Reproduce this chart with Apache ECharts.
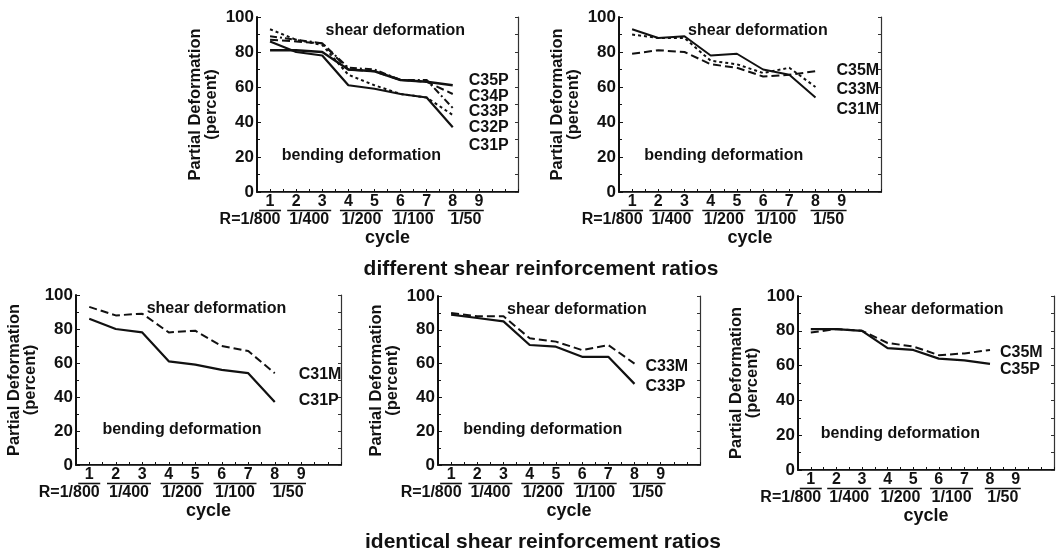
<!DOCTYPE html>
<html>
<head>
<meta charset="utf-8">
<title>Partial Deformation</title>
<script src="https://cdn.jsdelivr.net/npm/echarts@6/dist/echarts.min.js"></script>
<style>
  html, body { margin: 0; padding: 0; background: #fff; }
  #chart { width: 1057px; height: 555px; }
</style>
</head>
<body>
<div id="chart"></div>
<script>
// cycle axis: numbers under the ticks, drift ratio under each pair of cycles
const cycles = [1, 2, 3, 4, 5, 6, 7, 8];
const cycleLabels = ['1', '2', '3', '4', '5', '6', '7', '8', '9'];
const driftLabels = ['R=1/800', '1/400', '1/200', '1/100', '1/50'];
const driftCycles = [1, 2.5, 4.5, 6.5, 8.5];

// partial (shear) deformation in percent, one value per cycle
const c31P = [86, 80, 78, 61, 59, 56, 54, 37];
const c32P = [93, 87, 84, 67, 61, 56, 54, 44];
const c33P = [89, 87, 85, 71, 70, 64, 64, 48];
const c34P = [87, 86, 85, 70, 69, 64, 63, 56];
const c35P = [81, 81, 80, 70, 69, 64, 63, 61];
const c31M = [93, 88, 89, 78, 79, 70, 67, 54];
const c33M = [90, 88, 88, 75, 73, 68, 71, 60];
const c35M = [79, 81, 80, 73, 71, 66, 67, 69];

const captions = ['different shear reinforcement ratios', 'identical shear reinforcement ratios'];

const FONT = '"Liberation Sans", Arial, sans-serif';
const INK = '#111';

const DASH = {
  solid: 'solid',
  long: [8, 4],
  dot: [3, 3],
  dashDot: [7, 3, 2, 3]
};

/**
 * Panel layout; label = [distance, dy] of the end label
 */
const panels = [
  { left: 257, top: 17, width: 261, height: 175, lines: [
    { name: 'C35P', data: c35P, dash: 'solid', width: 2.4, label: [16, -5] },
    { name: 'C34P', data: c34P, dash: 'long', width: 2, label: [16, 3] },
    { name: 'C33P', data: c33P, dash: 'dashDot', width: 2, label: [16, 4] },
    { name: 'C32P', data: c32P, dash: 'dot', width: 2, label: [16, 13] },
    { name: 'C31P', data: c31P, dash: 'solid', width: 2.2, label: [16, 18] }
  ]},
  { left: 619, top: 17, width: 262, height: 175, lines: [
    { name: 'C35M', data: c35M, dash: 'long', width: 2, label: [21, -1] },
    { name: 'C33M', data: c33M, dash: 'dot', width: 2, label: [21, 3] },
    { name: 'C31M', data: c31M, dash: 'solid', width: 2, label: [21, 12] }
  ]},
  { left: 76, top: 295, width: 265, height: 170, lines: [
    { name: 'C31M', data: c31M, dash: 'long', width: 2, label: [24, 1] },
    { name: 'C31P', data: c31P, dash: 'solid', width: 2.2, label: [24, -2] }
  ]},
  { left: 438, top: 296, width: 262, height: 169, lines: [
    { name: 'C33M', data: c33M, dash: 'long', width: 2, label: [11, 3] },
    { name: 'C33P', data: c33P, dash: 'solid', width: 2.2, label: [11, 3] }
  ]},
  { left: 798, top: 296, width: 263, height: 174, lines: [
    { name: 'C35M', data: c35M, dash: 'long', width: 2, label: [10, 3] },
    { name: 'C35P', data: c35P, dash: 'solid', width: 2.2, label: [10, 6] }
  ]}
];

const labelRich = {
  n: { fontSize: 16, fontWeight: 'bold', lineHeight: 15, fontFamily: FONT, color: INK },
  sp: { fontSize: 16, lineHeight: 15 },
  r: { fontSize: 16, fontWeight: 'bold', lineHeight: 15, fontFamily: FONT, color: INK },
  pad: { width: 40 },
  b0: { width: 22, height: 1.6, lineHeight: 3, fontSize: 1, backgroundColor: INK },
  b1: { width: 44, height: 1.6, lineHeight: 3, fontSize: 1, backgroundColor: INK },
  b2: { width: 43, height: 1.6, lineHeight: 3, fontSize: 1, backgroundColor: INK },
  b3: { width: 43, height: 1.6, lineHeight: 3, fontSize: 1, backgroundColor: INK },
  b4: { width: 36, height: 1.6, lineHeight: 3, fontSize: 1, backgroundColor: INK }
};

/**
 * Label under a tick of the cycle axis
 */
function cycleLabel(value) {
  const i = cycleLabels.indexOf(String(value));
  const d = driftCycles.indexOf(value);
  const top = i >= 0 ? '{n|' + cycleLabels[i] + '}' : '{sp| }';
  if (d < 0) return i >= 0 ? top : '';
  const pad = d === 0 ? '{pad| }' : '';
  return top + '\n{b' + d + '| }\n{r|' + driftLabels[d] + '}' + pad;
}

const grid = [];
const xAxis = [];
const yAxis = [];
const series = [];

panels.forEach((p, g) => {
  grid.push({ left: p.left, top: p.top, width: p.width, height: p.height });

  // bottom: cycle axis
  xAxis.push({
    type: 'value', gridIndex: g, min: 0.5, max: 10.5, interval: 0.5,
    name: 'cycle', nameLocation: 'middle', nameGap: 37,
    nameTextStyle: { fontSize: 18, fontWeight: 'bold', fontFamily: FONT, color: INK },
    axisLine: { lineStyle: { color: INK, width: 2 } },
    axisTick: { inside: true, length: 3, lineStyle: { color: INK, width: 1 } },
    axisLabel: { margin: 2, verticalAlign: 'top', formatter: cycleLabel, rich: labelRich },
    splitLine: { show: false }
  });
  // top border
  xAxis.push({
    type: 'value', gridIndex: g, position: 'top', min: 0.5, max: 10.5,
    axisLine: { lineStyle: { color: '#444', width: 1 } },
    axisTick: { show: false }, axisLabel: { show: false }, splitLine: { show: false }
  });
  // left: percent axis
  yAxis.push({
    type: 'value', gridIndex: g, min: 0, max: 100, interval: 20,
    name: 'Partial Deformation\n(percent)', nameLocation: 'middle', nameGap: 38,
    nameTextStyle: { fontSize: 16.5, fontWeight: 'bold', fontFamily: FONT, color: INK, lineHeight: 16 },
    axisLine: { lineStyle: { color: INK, width: 2 } },
    axisTick: { inside: true, length: 4, lineStyle: { color: INK } },
    minorTick: { show: true, splitNumber: 2, length: 3, lineStyle: { color: INK } },
    axisLabel: { margin: 3, fontSize: 17, fontWeight: 'bold', fontFamily: FONT, color: INK },
    splitLine: { show: false }
  });
  // right border with ticks
  yAxis.push({
    type: 'value', gridIndex: g, position: 'right', min: 0, max: 100, interval: 20,
    axisLine: { lineStyle: { color: '#333', width: 1.2 } },
    axisTick: { inside: true, length: 3, lineStyle: { color: '#333' } },
    minorTick: { show: true, splitNumber: 2, length: 3, lineStyle: { color: '#333' } },
    axisLabel: { show: false }, splitLine: { show: false }
  });

  p.lines.forEach((line, k) => {
    const s = {
      type: 'line',
      name: line.name + '-' + g,
      xAxisIndex: g * 2,
      yAxisIndex: g * 2,
      data: cycles.map((c, j) => [c, line.data[j]]),
      symbol: 'none',
      silent: true,
      lineStyle: { color: INK, width: line.width, type: DASH[line.dash] },
      endLabel: {
        show: true,
        formatter: line.name,
        distance: line.label[0],
        offset: [0, line.label[1]],
        align: 'left',
        verticalAlign: 'middle',
        fontSize: 16,
        fontWeight: 'bold',
        fontFamily: FONT,
        color: INK
      }
    };
    // region notes in every panel
    if (k === 0) {
      s.markPoint = {
        symbol: 'circle',
        symbolSize: 1,
        silent: true,
        itemStyle: { color: 'rgba(0,0,0,0)' },
        label: {
          show: true, position: 'inside',
          fontSize: 16, fontWeight: 'bold', fontFamily: FONT, color: INK
        },
        data: [
          { coord: [5.8, 92], label: { formatter: 'shear deformation' } },
          { coord: [4.5, 21], label: { formatter: 'bending deformation' } }
        ]
      };
    }
    series.push(s);
  });
});

const chart = echarts.init(document.getElementById('chart'));
chart.setOption({
  backgroundColor: '#fff',
  animation: false,
  title: [
    { text: captions[0], left: 536, top: 254, textAlign: 'center',
      textStyle: { fontSize: 21, fontWeight: 'bold', fontFamily: FONT, color: INK } },
    { text: captions[1], left: 538, top: 527, textAlign: 'center',
      textStyle: { fontSize: 21, fontWeight: 'bold', fontFamily: FONT, color: INK } }
  ],
  grid: grid,
  xAxis: xAxis,
  yAxis: yAxis,
  series: series
});

window.addEventListener('resize', () => chart.resize());
</script>
</body>
</html>
